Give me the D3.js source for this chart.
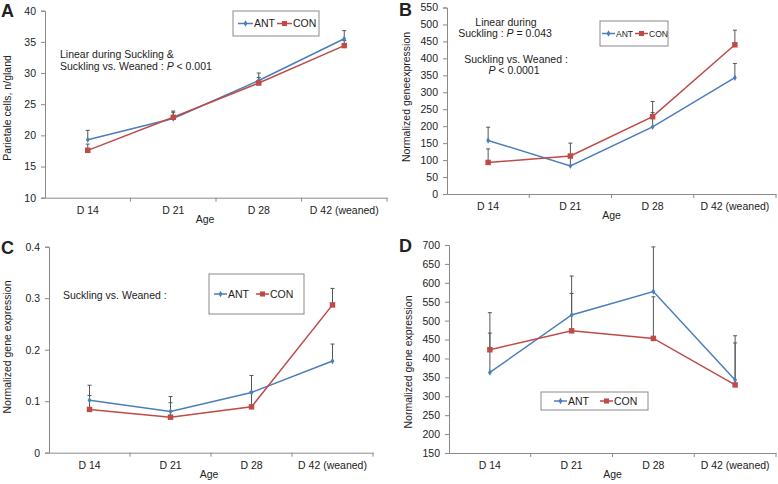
<!DOCTYPE html>
<html>
<head>
<meta charset="utf-8">
<script src="https://cdn.jsdelivr.net/npm/d3@7"></script>
<style>
  body { margin: 0; background: #fff; }
  text { font-family: "Liberation Sans", Arial, sans-serif; fill: #222; }
</style>
</head>
<body>
<script>
// ---- data ----
var ages = ["D 14", "D 21", "D 28", "D 42 (weaned)"];

// A: parietal cells
var antA = [19.3, 22.7, 28.8, 35.5];
var conA = [17.6, 22.9, 28.4, 34.4];
var antErrA = [1.5, 1.2, 1.2, 1.3];
var conErrA = [1.0, 0.8, 0.9, 0.8];
var ticksA = [10, 15, 20, 25, 30, 35, 40];

// B
var antB = [158, 83, 198, 343];
var conB = [93, 112, 228, 440];
var antErrB = [39, 30, 42, 42];
var conErrB = [40, 38, 45, 43];
var ticksB = [0, 50, 100, 150, 200, 250, 300, 350, 400, 450, 500, 550];

// C
var antC = [0.102, 0.080, 0.117, 0.178];
var conC = [0.084, 0.069, 0.089, 0.287];
var antErrC = [0.029, 0.029, 0.033, 0.033];
var conErrC = [0.027, 0.028, 0.03, 0.032];
var ticksC = [0, 0.1, 0.2, 0.3, 0.4];

// D
var antD = [363, 515, 577, 343];
var conD = [423, 473, 453, 330];
var antErrD = [158, 103, 118, 117];
var conErrD = [44, 99, 110, 111];
var ticksD = [150, 200, 250, 300, 350, 400, 450, 500, 550, 600, 650, 700];

var blue = "#4a7ebb", red = "#be4b48";

var svg = d3.select("body").append("svg")
    .attr("width", 778).attr("height", 484);

function drawPanel(p) {
    var g = svg.append("g");
    var x = d3.scaleBand().domain(ages).range([p.left, p.right]);
    var y = d3.scaleLinear().domain(p.domain).range([p.bottom, p.top]);

    // y axis
    var ya = g.append("g")
        .attr("transform", "translate(" + p.left + ",0)")
        .call(d3.axisLeft(y).tickValues(p.ticks).tickSize(4).tickPadding(5)
              .tickFormat(p.fmt || d3.format("")));
    // x axis (ticks at category boundaries)
    var xa = g.append("g")
        .attr("transform", "translate(0," + p.bottom + ")")
        .call(d3.axisBottom(x).tickSize(0).tickPadding(9));
    [ya, xa].forEach(function(a) {
        a.select(".domain").attr("stroke", "#8a8a8a");
        a.selectAll(".tick line").attr("stroke", "#8a8a8a");
        a.selectAll("text").style("font-size", "10.5px").attr("fill", "#222")
            .style("font-family", "Liberation Sans, Arial, sans-serif");
    });
    g.selectAll(".xb").data(ages.slice(1).concat(["end"]))
        .join("line")
        .attr("x1", function(d) { return d === "end" ? p.right : x(d); })
        .attr("x2", function(d) { return d === "end" ? p.right : x(d); })
        .attr("y1", p.bottom).attr("y2", p.bottom + 4)
        .attr("stroke", "#8a8a8a");

    // axis titles
    g.append("text").attr("x", p.agex || (p.left + p.right) / 2).attr("y", p.bottom + 25)
        .attr("text-anchor", "middle").style("font-size", "10.5px").text("Age");
    g.append("text")
        .attr("transform", "translate(" + p.ylx + "," + p.yly + ") rotate(-90)")
        .attr("text-anchor", "middle").style("font-size", "10.5px").text(p.ylabel);

    // panel letter
    g.append("text").attr("x", p.lx).attr("y", p.ly)
        .style("font-size", "18px").style("font-weight", "bold").attr("fill", "#000")
        .text(p.letter);

    var cx = function(i) { return x(ages[i]) + x.bandwidth() / 2; };
    var series = [
        {v: p.ant, e: p.antErr, c: blue, m: "diamond"},
        {v: p.con, e: p.conErr, c: red, m: "square"}
    ];
    // error bars
    series.forEach(function(s) {
        g.selectAll(null).data(s.v).join("path")
            .attr("d", function(d, i) {
                var x0 = cx(i), y0 = y(d), y1 = y(d + s.e[i]);
                return "M" + x0 + "," + y0 + "V" + y1 + "M" + (x0 - 2) + "," + y1 + "H" + (x0 + 2);
            })
            .attr("stroke", "#555").attr("stroke-width", 1).attr("fill", "none");
    });
    // lines + markers
    series.forEach(function(s) {
        var line = d3.line().x(function(d, i) { return cx(i); }).y(function(d) { return y(d); });
        g.append("path").datum(s.v).attr("d", line)
            .attr("fill", "none").attr("stroke", s.c).attr("stroke-width", 1.5);
        g.selectAll(null).data(s.v).join("path")
            .attr("transform", function(d, i) { return "translate(" + cx(i) + "," + y(d) + ")"; })
            .attr("d", d3.symbol().type(s.m === "square" ? d3.symbolSquare : d3.symbolDiamond)
                  .size(s.m === "square" ? 30 : 12))
            .attr("fill", s.c);
    });

    // legend
    var L = p.legend;
    g.append("rect").attr("x", L.x).attr("y", L.y).attr("width", L.w).attr("height", L.h)
        .attr("fill", "#fff").attr("stroke", "#8a8a8a");
    var my = L.y + L.h / 2;
    [{n: "ANT", c: blue, m: "diamond", x: L.ix[0]}, {n: "CON", c: red, m: "square", x: L.ix[1]}]
    .forEach(function(it) {
        g.append("line").attr("x1", it.x).attr("x2", it.x + L.ll).attr("y1", my).attr("y2", my)
            .attr("stroke", it.c).attr("stroke-width", 1.5);
        g.append("path").attr("transform", "translate(" + (it.x + L.ll / 2) + "," + my + ")")
            .attr("d", d3.symbol().type(it.m === "square" ? d3.symbolSquare : d3.symbolDiamond)
                  .size(it.m === "square" ? 26 : 12))
            .attr("fill", it.c);
        g.append("text").attr("x", it.x + L.ll + 1).attr("y", my + L.fs * 0.36)
            .style("font-size", L.fs + "px").text(it.n);
    });

    // annotations
    p.notes.forEach(function(n) {
        var t = g.append("text").attr("x", n.x).attr("y", n.y)
            .attr("text-anchor", n.anchor || "start").style("font-size", "10.5px");
        n.parts.forEach(function(pt) {
            t.append("tspan").style("font-style", pt.i ? "italic" : "normal").text(pt.t);
        });
    });
}

drawPanel({
    letter: "A", lx: 1, ly: 17, agex: 205,
    left: 45, right: 387, top: 10.7, bottom: 197.7, domain: [10, 40], ticks: ticksA,
    ant: antA, con: conA, antErr: antErrA, conErr: conErrA,
    ylabel: "Parietale cells, n/gland", ylx: 11, yly: 108,
    legend: {x: 233, y: 11, w: 86, h: 25, ix: [238, 277], ll: 15, fs: 10.5},
    notes: [
        {x: 60, y: 58, parts: [{t: "Linear during Suckling &"}]},
        {x: 60, y: 70, parts: [{t: "Suckling vs. Weaned : "}, {t: "P", i: true}, {t: " < 0.001"}]}
    ]
});

drawPanel({
    letter: "B", lx: 399, ly: 16,
    left: 447, right: 776, top: 7.5, bottom: 194, domain: [0, 550], ticks: ticksB,
    ant: antB, con: conB, antErr: antErrB, conErr: conErrB,
    ylabel: "Normalized geneexpression", ylx: 410, yly: 97,
    legend: {x: 600, y: 21, w: 68, h: 25, ix: [602, 635], ll: 13, fs: 8.5},
    notes: [
        {x: 506, y: 26, anchor: "middle", parts: [{t: "Linear during"}]},
        {x: 505, y: 37, anchor: "middle", parts: [{t: "Suckling : "}, {t: "P", i: true}, {t: " = 0.043"}]},
        {x: 516, y: 63, anchor: "middle", parts: [{t: "Suckling vs. Weaned :"}]},
        {x: 514, y: 74, anchor: "middle", parts: [{t: "P", i: true}, {t: " < 0.0001"}]}
    ]
});

drawPanel({
    letter: "C", lx: 1, ly: 254, agex: 209,
    left: 49, right: 373, top: 246.7, bottom: 452.7, domain: [0, 0.4], ticks: ticksC,
    fmt: function(d) { return d === 0 ? "0" : d3.format(".1f")(d); },
    ant: antC, con: conC, antErr: antErrC, conErr: conErrC,
    ylabel: "Normalized gene expression", ylx: 11, yly: 347,
    legend: {x: 209, y: 274, w: 95, h: 40, ix: [214, 256], ll: 13, fs: 10.5},
    notes: [
        {x: 63, y: 299, parts: [{t: "Suckling vs. Weaned :"}]}
    ]
});

drawPanel({
    letter: "D", lx: 399, ly: 252,
    left: 449, right: 776, top: 245, bottom: 453, domain: [150, 700], ticks: ticksD,
    ant: antD, con: conD, antErr: antErrD, conErr: conErrD,
    ylabel: "Normalized gene expression", ylx: 412, yly: 362,
    legend: {x: 541, y: 392, w: 107, h: 18, ix: [554, 600], ll: 13, fs: 10.5},
    notes: []
});
</script>
</body>
</html>
